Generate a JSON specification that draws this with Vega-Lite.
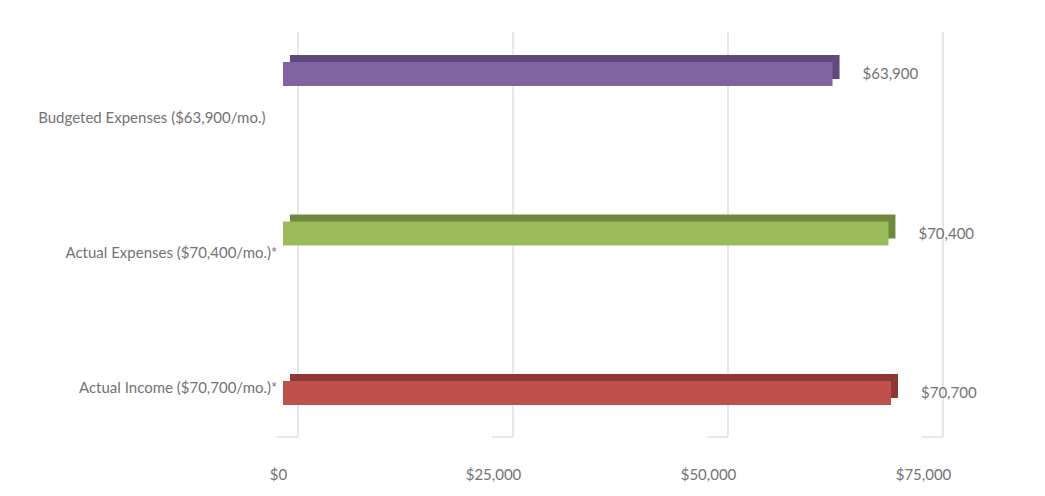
{
  "$schema": "https://vega.github.io/schema/vega-lite/v6.json",
  "width": 645,
  "height": 403,
  "autosize": "none",
  "padding": {"left": 283, "top": 32, "right": 117, "bottom": 61},
  "background": "white",
  "config": {
    "view": {"stroke": null},
    "font": "Lato",
    "axis": {"labelFont": "Lato", "labelFontSize": 15, "labelColor": "#737373", "labelLimit": 0}
  },
  "datasets": {
    "bars": [
      {"category": "Budgeted Expenses ($63,900/mo.)", "amount": 63900, "front": "#8064A2", "side": "#5E4A7C"},
      {"category": "Actual Expenses ($70,400/mo.)*", "amount": 70400, "front": "#9BBB59", "side": "#71893F"},
      {"category": "Actual Income ($70,700/mo.)*", "amount": 70700, "front": "#C0504D", "side": "#8E3835"}
    ],
    "grid": [{"v": 0}, {"v": 25000}, {"v": 50000}, {"v": 75000}]
  },
  "layer": [
    {
      "data": {"name": "grid"},
      "mark": {"type": "rule", "color": "#D9D9D9", "strokeWidth": 1.2, "xOffset": 15, "y": 0, "y2": {"expr": "height+2"}},
      "encoding": {
        "x": {"field": "v", "type": "quantitative", "scale": {"domain": [0, 75000], "nice": false, "zero": true},
          "axis": {"values": [0, 25000, 50000, 75000], "format": "$,.0f", "grid": false, "domain": false, "ticks": false, "labelFlush": false, "labelPadding": 32, "labelOffset": -5, "title": null}}
      }
    },
    {
      "data": {"name": "grid"},
      "mark": {"type": "rule", "color": "#D9D9D9", "strokeWidth": 1.2, "xOffset": 15, "x2Offset": -6, "y": {"expr": "height+2"}, "y2": {"expr": "height+18"}},
      "encoding": {
        "x": {"field": "v", "type": "quantitative"},
        "x2": {"field": "v"}
      }
    },
    {
      "data": {"name": "bars"},
      "layer": [
        {
          "mark": {"type": "bar", "xOffset": 7, "yOffset": -7},
          "encoding": {
            "y": {"field": "category", "type": "nominal", "sort": null,
              "scale": {"paddingInner": 0.85, "paddingOuter": 0.188},
              "axis": {"title": null, "domain": false, "ticks": false,
                "labelPadding": {"expr": "datum.index == 0 ? 18 : 6"},
                "labelOffset": {"expr": "datum.index == 0 ? 44 : (datum.index < 0.75 ? 19 : -5)"}}},
            "x": {"field": "amount", "type": "quantitative"},
            "color": {"field": "side", "type": "nominal", "scale": null, "legend": null}
          }
        },
        {
          "mark": {"type": "bar"},
          "encoding": {
            "y": {"field": "category", "type": "nominal", "sort": null},
            "x": {"field": "amount", "type": "quantitative"},
            "color": {"field": "front", "type": "nominal", "scale": null, "legend": null}
          }
        },
        {
          "mark": {"type": "text", "align": "left", "baseline": "middle", "dx": 30, "fontSize": 15, "color": "#737373", "font": "Lato"},
          "encoding": {
            "y": {"field": "category", "type": "nominal", "sort": null},
            "x": {"field": "amount", "type": "quantitative"},
            "text": {"field": "amount", "type": "quantitative", "format": "$,.0f"}
          }
        }
      ]
    }
  ]
}
